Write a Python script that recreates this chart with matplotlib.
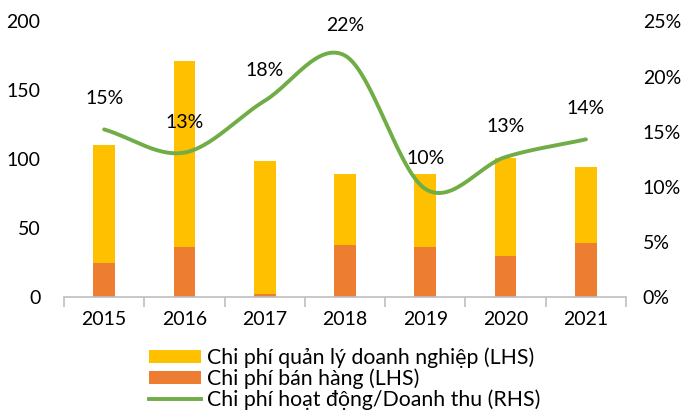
import numpy as np
import matplotlib
matplotlib.use("Agg")
import matplotlib.pyplot as plt
from matplotlib.ticker import FuncFormatter, FixedLocator

plt.rcParams['font.family'] = ['Lato', 'DejaVu Sans']

years = ["2015", "2016", "2017", "2018", "2019", "2020", "2021"]
ban_hang = [25, 36, 2, 38, 36, 30, 39]          # Chi phí bán hàng (LHS)
quan_ly = [85, 135, 97, 51, 53, 71, 55]         # Chi phí quản lý doanh nghiệp (LHS)
ratio = [15.2, 13.1, 17.8, 21.9, 9.8, 12.7, 14.3]  # Chi phí hoạt động/Doanh thu (%)
ratio_labels = ["15%", "13%", "18%", "22%", "10%", "13%", "14%"]

YELLOW = "#FFC000"
ORANGE = "#ED7D31"
GREEN = "#70AD47"

def catmull_rom(x, y, n=30):
    x = np.asarray(x, float); y = np.asarray(y, float)
    px = np.concatenate([[2*x[0]-x[1]], x, [2*x[-1]-x[-2]]])
    py = np.concatenate([[2*y[0]-y[1]], y, [2*y[-1]-y[-2]]])
    xs, ys = [], []
    for i in range(1, len(px)-2):
        t = np.linspace(0, 1, n, endpoint=(i == len(px)-3))
        t2, t3 = t*t, t*t*t
        for arr, out in ((px, xs), (py, ys)):
            p0, p1, p2, p3 = arr[i-1], arr[i], arr[i+1], arr[i+2]
            out.extend(0.5*((2*p1) + (-p0+p2)*t + (2*p0-5*p1+4*p2-p3)*t2 + (-p0+3*p1-3*p2+p3)*t3))
    return np.array(xs), np.array(ys)

fig = plt.figure(figsize=(6.88, 4.2), dpi=100)
ax = fig.add_axes([0.093, 0.293, 0.817, 0.656])
x = np.arange(len(years))
w = 0.27
b1 = ax.bar(x, ban_hang, w, color=ORANGE, label="Chi phí bán hàng (LHS)", zorder=2)
b2 = ax.bar(x, quan_ly, w, bottom=ban_hang, color=YELLOW, label="Chi phí quản lý doanh nghiệp (LHS)", zorder=2)
ax.set_ylim(0, 200)
ax.set_xlim(-0.5, len(years)-0.5)
ax.set_yticks([0, 50, 100, 150, 200])
ax.set_xticks(x)
ax.set_xticklabels(years)
ax.tick_params(axis='y', length=0, labelsize=14, pad=17)
ax.tick_params(axis='x', length=0, labelsize=14, pad=10)
for s in ['top', 'right', 'left']:
    ax.spines[s].set_visible(False)
ax.spines['bottom'].set_color('#BFBFBF')
ax.spines['bottom'].set_linewidth(1.2)
ax.xaxis.set_minor_locator(FixedLocator(np.arange(-0.5, len(years), 1.0)))
ax.tick_params(axis='x', which='minor', length=7, color='#BFBFBF', width=1.2, direction='out')

ax2 = ax.twinx()
ax2.set_ylim(0, 25)
ax2.set_yticks([0, 5, 10, 15, 20, 25])
ax2.yaxis.set_major_formatter(FuncFormatter(lambda v, p: f"{int(v)}%"))
ax2.tick_params(axis='y', length=0, labelsize=14, pad=12)
for s in ['top', 'right', 'left', 'bottom']:
    ax2.spines[s].set_visible(False)
sx, sy = catmull_rom(x, ratio)
ax2.plot(sx, sy, color=GREEN, lw=2.8, solid_capstyle='round', zorder=3)
line_handle, = ax2.plot([], [], color=GREEN, lw=2.8, label="Chi phí hoạt động/Doanh thu (RHS)")
for xi, yi, lab in zip(x, ratio, ratio_labels):
    ax2.annotate(lab, (xi, yi), xytext=(0, 22), textcoords='offset points',
                 ha='center', va='center', fontsize=14)

fig.legend(handles=[b2, b1, line_handle],
           labels=["Chi phí quản lý doanh nghiệp (LHS)", "Chi phí bán hàng (LHS)",
                   "Chi phí hoạt động/Doanh thu (RHS)"],
           loc='upper left', bbox_to_anchor=(0.2166, 0.172), frameon=False,
           fontsize=15.3, handlelength=2.45, handleheight=0.55, handletextpad=0.3,
           labelspacing=0.0, borderpad=0, borderaxespad=0)

fig.savefig("out.png", dpi=100)
